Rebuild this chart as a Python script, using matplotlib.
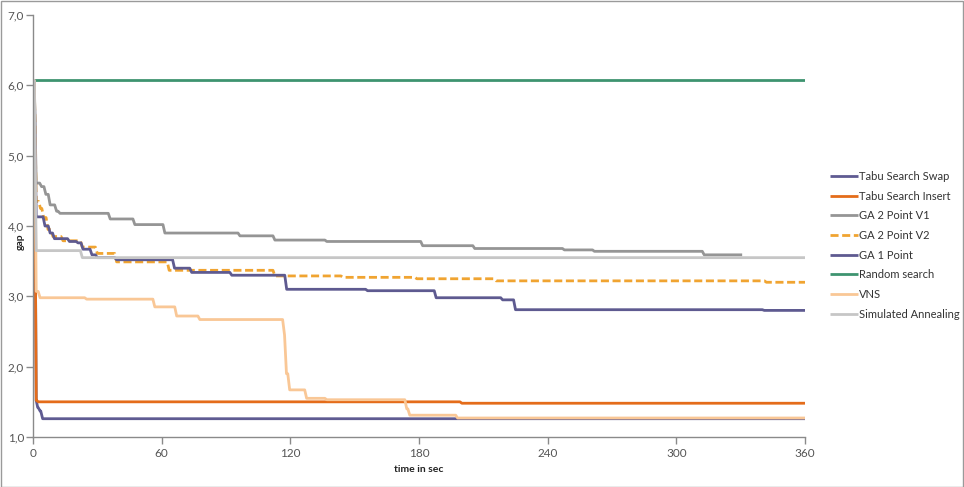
import matplotlib
matplotlib.use("Agg")
import matplotlib.pyplot as plt
from matplotlib.patches import Rectangle

plt.rcParams['font.family'] = ['Lato', 'DejaVu Sans']

# ---- data (breakpoints of step series: time in sec, gap) ----
tabu_swap_t = [0, 1.5, 2.2, 3.3, 4.5, 360]
tabu_swap_v = [6.07, 1.52, 1.42, 1.37, 1.26, 1.26]

tabu_insert_t = [0, 1.5, 2.5, 200, 360]
tabu_insert_v = [6.07, 1.52, 1.50, 1.48, 1.48]

ga2v1_t = [0, 1.5, 4, 6, 8, 11, 12.6, 36, 47.5, 61.5, 96.5, 112.8, 137, 181.7, 206, 247.8, 261.8, 313, 330.7]
ga2v1_v = [6.07, 4.61, 4.56, 4.45, 4.30, 4.21, 4.18, 4.10, 4.02, 3.90, 3.86, 3.80, 3.78, 3.72, 3.68, 3.66, 3.64, 3.59, 3.59]

ga2v2_t = [0, 1.5, 3.5, 5, 7, 9.3, 14, 23, 30, 39, 63.5, 112.8, 144.5, 179, 216, 342, 360]
ga2v2_v = [6.07, 4.35, 4.25, 4.12, 3.95, 3.85, 3.79, 3.70, 3.61, 3.49, 3.37, 3.29, 3.27, 3.25, 3.22, 3.20, 3.20]

ga1_t = [0, 1.5, 5.6, 8, 10, 17, 21, 23.3, 27.5, 30, 39, 66, 74, 92.7, 118.3, 156, 188, 219, 225, 341, 360]
ga1_v = [6.07, 4.13, 4.00, 3.90, 3.82, 3.78, 3.76, 3.67, 3.59, 3.55, 3.52, 3.40, 3.34, 3.30, 3.10, 3.08, 2.98, 2.95, 2.81, 2.80, 2.80]

random_t = [0, 360]
random_v = [6.07, 6.07]

vns_t = [0, 1.5, 3.3, 25, 56.8, 67, 77.8, 117.3, 118.2, 119.7, 127.6, 137, 174.3, 175.7, 198, 360]
vns_v = [6.07, 3.07, 2.98, 2.96, 2.85, 2.72, 2.67, 2.45, 1.90, 1.67, 1.55, 1.53, 1.40, 1.31, 1.27, 1.27]

sa_t = [0, 1.5, 23, 360]
sa_v = [6.07, 3.65, 3.55, 3.55]

series_names = ['Tabu Search Swap', 'Tabu Search Insert', 'GA 2 Point V1', 'GA 2 Point V2',
                'GA 1 Point', 'Random search', 'VNS', 'Simulated Annealing']

x_ticks = [0, 60, 120, 180, 240, 300, 360]
y_ticks = [1, 2, 3, 4, 5, 6, 7]
y_tick_labels = ['1,0', '2,0', '3,0', '4,0', '5,0', '6,0', '7,0']


def excel_line(t, v, ramp=0.9):
    """Turn step breakpoints into a line whose changes span a short ramp (like per-second samples)."""
    xs, ys = [t[0]], [v[0]]
    for i in range(1, len(t)):
        start = max(t[i] - ramp, xs[-1])
        if v[i] != v[i - 1]:
            xs.append(start)
            ys.append(v[i - 1])
        xs.append(t[i])
        ys.append(v[i])
    return xs, ys


# ---- plotting ----
W, H = 964, 487
fig = plt.figure(figsize=(W / 100, H / 100), dpi=100)
ax = fig.add_axes([33 / W, 1 - 437 / H, (805 - 33) / W, (437 - 15) / H])

series = [
    (tabu_swap_t, tabu_swap_v, '#5F5B92', '-'),
    (tabu_insert_t, tabu_insert_v, '#E46C1A', '-'),
    (ga2v1_t, ga2v1_v, '#959595', '-'),
    (ga2v2_t, ga2v2_v, '#F0A431', '--'),
    (ga1_t, ga1_v, '#5E5A90', '-'),
    (random_t, random_v, '#3E9470', '-'),
    (vns_t, vns_v, '#F9C796', '-'),
    (sa_t, sa_v, '#C6C6C6', '-'),
]
for (t, v, c, ls), name in zip(series, series_names):
    xs, ys = excel_line(t, v)
    kw = dict(dashes=(2.9, 1.3)) if ls == '--' else {}
    ax.plot(xs, ys, color=c, lw=2.0, ls=ls, label=name, solid_capstyle='butt',
            solid_joinstyle='round', **kw)

ax.set_xlim(0, 360)
ax.set_ylim(1, 7)
ax.set_xticks(x_ticks)
ax.set_yticks(y_ticks)
ax.set_yticklabels(y_tick_labels)
for s in ['top', 'right']:
    ax.spines[s].set_visible(False)
for s in ['left', 'bottom']:
    ax.spines[s].set_color('#8A8A8A')
    ax.spines[s].set_linewidth(1.0)
ax.tick_params(axis='both', colors='#8A8A8A', length=5, width=1.0, direction='out',
               labelcolor='#555555', labelsize=8.5)
ax.tick_params(axis='y', pad=1.5)
ax.tick_params(axis='x', pad=3)

fig.text(419 / W, 1 - 469 / H, 'time in sec', ha='center', va='center',
         fontsize=7.5, fontweight='bold', color='#222222')
fig.text(20 / W, 1 - 242 / H, 'gap', ha='center', va='center', rotation=90,
         fontsize=7.5, fontweight='bold', color='#222222')

leg = fig.legend(loc='upper left', bbox_to_anchor=(830 / W, 1 - 171 / H),
                 frameon=False, fontsize=8, handlelength=2.5, handletextpad=0.15,
                 labelspacing=0.78, borderpad=0, borderaxespad=0)
for txt in leg.get_texts():
    txt.set_color('#333333')

fig.patches.append(Rectangle((0.5 / W, 0.5 / H), 1 - 1.5 / W, 1 - 1.5 / H, transform=fig.transFigure,
                             fill=False, edgecolor='#9A9A9A', lw=1.0))

fig.savefig('out.png', dpi=100)
